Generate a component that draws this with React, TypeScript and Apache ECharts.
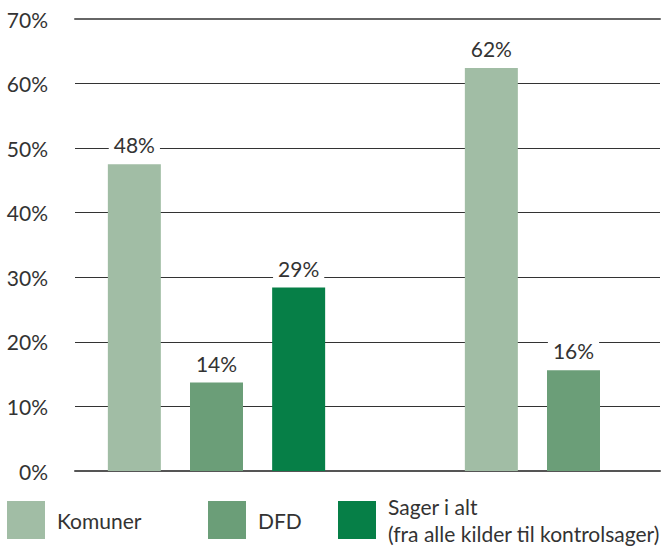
import React, { useEffect, useRef } from "react";
import * as echarts from "echarts";

const groups = ["Gruppe 1", "Gruppe 2"];
const komunerValues = [47.5, 62.4];
const dfdValues = [13.7, 15.6];
const sagerValues: (number | string)[] = [28.4, "-"];
const komunerLabels = ["48%", "62%"];
const dfdLabels = ["14%", "16%"];
const sagerLabels = ["29%", ""];
const yTicks = [0, 10, 20, 30, 40, 50, 60, 70];

const FONT = "Lato";
const TEXT = "#333333";

export default function App() {
  const ref = useRef<HTMLDivElement>(null);
  useEffect(() => {
    const chart = echarts.init(ref.current!, undefined, { renderer: "svg" });
    const label = (arr: string[]) => ({
      show: true,
      position: "top" as const,
      distance: 9,
      fontFamily: FONT,
      fontSize: 21,
      color: TEXT,
      backgroundColor: "#ffffff",
      padding: [0, 5],
      formatter: (p: any) => arr[p.dataIndex],
    });
    const legend = (name: string, left: number, top: number) => ({
      left,
      top,
      padding: 0,
      itemWidth: 38,
      itemHeight: 38,
      icon: "rect",
      data: [name],
      selectedMode: false,
      textStyle: {
        fontFamily: FONT,
        fontSize: 21,
        color: TEXT,
        lineHeight: 27,
        padding: [0, 0, 0, 7],
      },
    });
    chart.setOption({
      animation: false,
      grid: [
        { left: 75, right: 2, top: 19, bottom: 78 },
        { left: 216.5, right: 88.5, top: 19, bottom: 78 },
      ],
      xAxis: [
        {
          gridIndex: 0,
          type: "category",
          data: groups,
          axisLine: { show: true, lineStyle: { color: "#555555", width: 2 } },
          axisTick: { show: false },
          axisLabel: { show: false },
        },
        {
          gridIndex: 0,
          type: "category",
          position: "top",
          data: groups,
          axisLine: { show: true, lineStyle: { color: "#666666", width: 2 } },
          axisTick: { show: false },
          axisLabel: { show: false },
        },
        {
          gridIndex: 1,
          type: "category",
          boundaryGap: false,
          data: groups,
          show: false,
        },
      ],
      yAxis: [
        {
          gridIndex: 0,
          type: "value",
          min: 0,
          max: 70,
          interval: 10,
          axisLine: { show: false },
          axisTick: { show: false },
          splitLine: { show: true, lineStyle: { color: "#333333", width: 1 } },
          axisLabel: {
            margin: 27,
            fontFamily: FONT,
            fontSize: 21,
            color: TEXT,
            formatter: (v: number) => (yTicks.includes(v) ? v + "%" : ""),
          },
        },
        {
          gridIndex: 1,
          type: "value",
          min: 0,
          max: 70,
          show: false,
        },
      ],
      legend: [
        legend("Komuner", 7, 501),
        legend("DFD", 208, 501),
        legend("Sager i alt\n(fra alle kilder til kontrolsager)", 338, 493),
      ],
      series: [
        {
          name: "Komuner",
          type: "bar",
          xAxisIndex: 2,
          yAxisIndex: 1,
          data: komunerValues,
          barWidth: 53,
          barGap: "55%",
          itemStyle: { color: "#A1BDA5" },
          label: label(komunerLabels),
        },
        {
          name: "DFD",
          type: "bar",
          xAxisIndex: 2,
          yAxisIndex: 1,
          data: dfdValues,
          barWidth: 53,
          barGap: "55%",
          itemStyle: { color: "#6B9E78" },
          label: label(dfdLabels),
        },
        {
          name: "Sager i alt\n(fra alle kilder til kontrolsager)",
          type: "bar",
          xAxisIndex: 2,
          yAxisIndex: 1,
          data: sagerValues,
          barWidth: 53,
          barGap: "55%",
          itemStyle: { color: "#067F47" },
          label: label(sagerLabels),
        },
      ],
    });
    return () => chart.dispose();
  }, []);
  return (
    <div
      ref={ref}
      style={{ position: "absolute", left: 0, top: 0, width: 662, height: 549 }}
    />
  );
}
